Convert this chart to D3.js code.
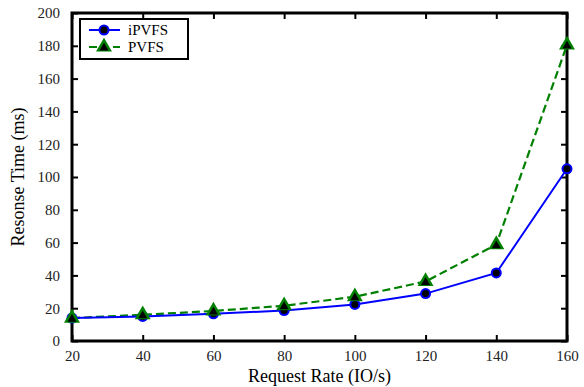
<!DOCTYPE html>
<html>
<head>
<meta charset="utf-8">
<script src="https://cdn.jsdelivr.net/npm/d3@7"></script>
<style>
  body { margin: 0; background: #fff; }
</style>
</head>
<body>
<div id="chart"></div>
<script>
var rates = [20, 40, 60, 80, 100, 120, 140, 160];
var ipvfs = [14, 15, 16.6, 18.6, 22.3, 28.9, 41.5, 105];
var pvfs = [14, 16, 18.3, 21.5, 27, 36.3, 58.8, 180.5];
var yTicks = [0, 20, 40, 60, 80, 100, 120, 140, 160, 180, 200];

var serif = '"Liberation Serif", "DejaVu Serif", serif';

var vWidth = 584,
  vHeight = 387,
  margin = { top: 13, right: 17, bottom: 46, left: 72 },
  width = vWidth - margin.left - margin.right,
  height = vHeight - margin.top - margin.bottom;

var svg = d3
  .select('#chart')
  .append('svg')
  .attr('width', vWidth)
  .attr('height', vHeight)
  .attr('font-family', serif);

var g = svg
  .append('g')
  .attr('transform', 'translate(' + margin.left + ',' + margin.top + ')');

var x = d3.scaleLinear().domain([20, 160]).range([0, width]);
var y = d3.scaleLinear().domain([0, 200]).range([height, 0]);

// inward ticks on all four sides
function styleAxis(sel) {
  sel.attr('font-family', serif).attr('font-size', 15);
  sel.select('.domain').remove();
  sel.selectAll('line').attr('stroke', '#000').attr('stroke-width', 2);
  sel.selectAll('text').attr('fill', '#222');
}

g.append('g')
  .attr('transform', 'translate(0,' + height + ')')
  .call(d3.axisBottom(x).tickValues(rates).tickSize(-6).tickPadding(9))
  .call(styleAxis);

g.append('g')
  .call(d3.axisTop(x).tickValues(rates).tickSize(-6).tickFormat(''))
  .call(styleAxis);

g.append('g')
  .call(d3.axisLeft(y).tickValues(yTicks).tickSize(-6).tickPadding(12))
  .call(styleAxis);

g.append('g')
  .attr('transform', 'translate(' + width + ',0)')
  .call(d3.axisRight(y).tickValues(yTicks).tickSize(-6).tickFormat(''))
  .call(styleAxis);

g.append('rect')
  .attr('width', width)
  .attr('height', height)
  .attr('fill', 'none')
  .attr('stroke', '#000')
  .attr('stroke-width', 3);

var line = d3
  .line()
  .x(function(d, i) { return x(rates[i]); })
  .y(function(d) { return y(d); });

g.append('path')
  .datum(pvfs)
  .attr('d', line)
  .attr('fill', 'none')
  .attr('stroke', '#008000')
  .attr('stroke-width', 2.2)
  .attr('stroke-dasharray', '8,4');

g.append('path')
  .datum(ipvfs)
  .attr('d', line)
  .attr('fill', 'none')
  .attr('stroke', '#0000ff')
  .attr('stroke-width', 2);

var tri = d3.symbol().type(d3.symbolTriangle);

function circleMarker(sel) {
  sel.append('circle').attr('r', 5.5).attr('fill', '#0000ff');
  sel.append('circle').attr('r', 3.5).attr('fill', '#000');
}

function triMarker(sel) {
  sel.append('path').attr('d', tri.size(110)()).attr('fill', '#008000');
  sel.append('path').attr('d', tri.size(35)()).attr('fill', '#000').attr('transform', 'translate(0,1)');
}

g.selectAll('.ip')
  .data(ipvfs)
  .enter()
  .append('g')
  .attr('class', 'ip')
  .attr('transform', function(d, i) { return 'translate(' + x(rates[i]) + ',' + y(d) + ')'; })
  .each(function() { circleMarker(d3.select(this)); });

g.selectAll('.pv')
  .data(pvfs)
  .enter()
  .append('g')
  .attr('class', 'pv')
  .attr('transform', function(d, i) { return 'translate(' + x(rates[i]) + ',' + y(d) + ')'; })
  .each(function() { triMarker(d3.select(this)); });

// legend
var legend = svg.append('g').attr('transform', 'translate(80,19)');
legend.append('rect')
  .attr('width', 108)
  .attr('height', 40)
  .attr('fill', '#fff')
  .attr('stroke', '#000')
  .attr('stroke-width', 2);

var l1 = legend.append('g').attr('transform', 'translate(0,11)');
l1.append('line').attr('x1', 9).attr('x2', 40).attr('stroke', '#0000ff').attr('stroke-width', 2);
circleMarker(l1.append('g').attr('transform', 'translate(24,0)'));
l1.append('text').attr('x', 48).attr('dy', '0.35em').attr('font-size', 15).text('iPVFS');

var l2 = legend.append('g').attr('transform', 'translate(0,28)');
l2.append('line').attr('x1', 9).attr('x2', 40).attr('stroke', '#008000').attr('stroke-width', 2.2).attr('stroke-dasharray', '8,4');
triMarker(l2.append('g').attr('transform', 'translate(24,0)'));
l2.append('text').attr('x', 48).attr('dy', '0.35em').attr('font-size', 15).text('PVFS');

// axis titles
svg.append('text')
  .attr('x', margin.left + width / 2)
  .attr('y', 382)
  .attr('text-anchor', 'middle')
  .attr('font-size', 18)
  .text('Request Rate (IO/s)');

svg.append('text')
  .attr('transform', 'translate(24,' + (margin.top + height / 2) + ') rotate(-90)')
  .attr('text-anchor', 'middle')
  .attr('font-size', 18)
  .text('Resonse Time (ms)');
</script>
</body>
</html>
